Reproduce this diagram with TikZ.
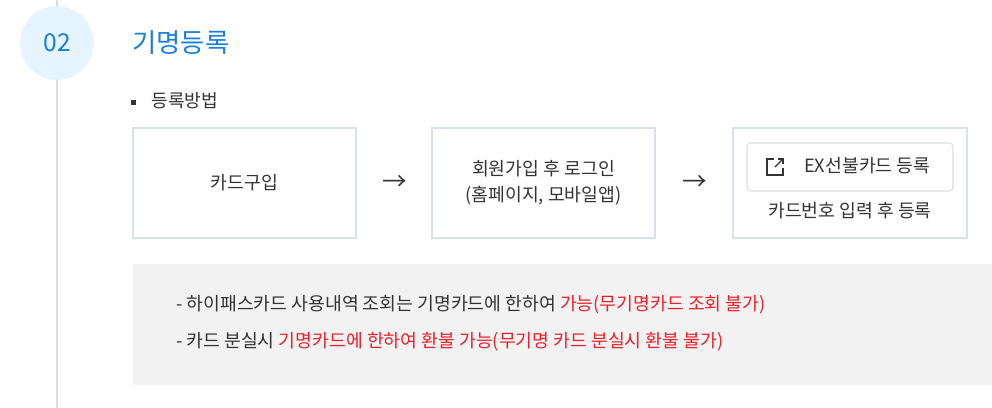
\documentclass[tikz,border=0pt]{standalone}
\usepackage{fontspec}
\setmainfont{Noto Sans CJK KR}
\usepackage{xcolor}
\definecolor{linegray}{HTML}{DDDDDD}
\definecolor{boxline}{HTML}{D8E0EA}
\definecolor{circfill}{HTML}{E6F4FF}
\definecolor{titleblue}{HTML}{1A7FD6}
\definecolor{notered}{HTML}{E8202A}
\definecolor{notegray}{HTML}{F2F2F2}
\definecolor{txt}{HTML}{333333}
\begin{document}
\begin{tikzpicture}[x=0.02cm,y=-0.02cm]
    \tikzset{stepbox/.style = {draw=boxline,line width=1.1pt,fill=white}}
    \tikzset{body/.style = {font=\fontsize{10.4}{15}\selectfont,text=txt,align=center}}
    \useasboundingbox (0,0) rectangle (992,408);
    % timeline
    \draw[linegray,line width=1.7pt] (57,0) -- (57,408);
    \node[circle,fill=circfill,minimum size=1.48cm,inner sep=0] (num) at (57,43)
        {\fontsize{14}{14}\selectfont\color{titleblue}02};
    \node[anchor=west,inner sep=0,text=titleblue,font=\fontsize{15}{15}\selectfont] (title) at (132,43) {기명등록};
    \fill[txt] (131,100) rectangle (136,105);
    \node[anchor=west,inner sep=0,body,font=\fontsize{10.3}{12}\selectfont] (sub) at (151,101) {등록방법};
    % boxes
    \draw[stepbox] (133,128) rectangle (356,238);
    \draw[stepbox] (432,128) rectangle (655,238);
    \draw[stepbox] (733,128) rectangle (967,238);
    \node[body] (buy) at (244.5,183) {카드구입};
    \node[body] (join) at (543.5,183) {회원가입 후 로그인\\(홈페이지, 모바일앱)};
    \node[body,font=\fontsize{14}{14}\selectfont] (arr1) at (395,183) {→};
    \node[body,font=\fontsize{14}{14}\selectfont] (arr2) at (695,183) {→};
    \draw[linegray,line width=0.6pt,rounded corners=2pt,fill=white] (747,143) rectangle (953,191);
    \node[body,anchor=west] (btn) at (798,166) {EX선불카드 등록};
    % link icon
    \draw[txt,line width=0.7pt] (774,159) -- (767,159) -- (767,175) -- (783,175) -- (783,168);
    \draw[txt,line width=0.7pt] (775,167) -- (783,159);
    \draw[txt,line width=0.7pt] (778,159) -- (783,159) -- (783,164);
    \node[body] (num2) at (850,211) {카드번호 입력 후 등록};
    % notes
    \fill[notegray] (133,264) rectangle (992,385);
    \node[body,anchor=west] (n1) at (170,305) {- 하이패스카드 사용내역 조회는 기명카드에 한하여 \textcolor{notered}{가능(무기명카드 조회 불가)}};
    \node[body,anchor=west] (n2) at (170,342) {- 카드 분실시 \textcolor{notered}{기명카드에 한하여 환불 가능(무기명 카드 분실시 환불 불가)}};
\end{tikzpicture}
\end{document}
